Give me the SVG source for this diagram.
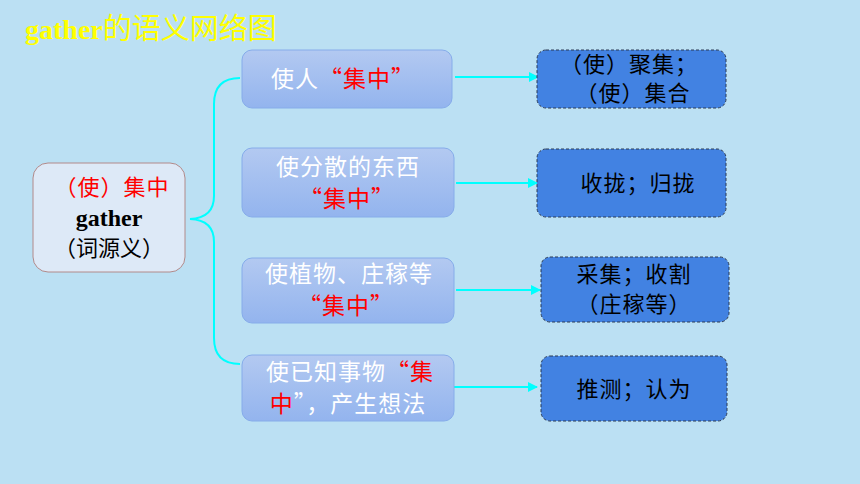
<svg xmlns="http://www.w3.org/2000/svg" width="860" height="484" viewBox="0 0 860 484">
<defs>
<linearGradient id="mid" x1="0" y1="0" x2="0" y2="1">
<stop offset="0" stop-color="#b3c9f1"/>
<stop offset="1" stop-color="#93b4ee"/>
</linearGradient>
<marker id="ah" viewBox="0 0 10 10" refX="9" refY="5" markerWidth="5" markerHeight="5" orient="auto" markerUnits="strokeWidth">
<path d="M0,0 L10,5 L0,10 z" fill="#00ffff"/>
</marker>
<style>
.cjk{font-family:"Noto Sans CJK SC","Noto Sans",sans-serif;}
.mid rect{fill:url(#mid);stroke:#86acea;stroke-width:1;}
.mid text{fill:#ffffff;font-size:23px;text-anchor:middle;letter-spacing:1px;}
.mid .red{fill:#ff0000;}
.right rect{fill:#4282e2;stroke:#2a3a55;stroke-width:1;stroke-dasharray:3 2;}
.right text{fill:#000000;font-size:22px;text-anchor:middle;letter-spacing:1px;}
.conn{stroke:#00ffff;stroke-width:2;fill:none;}
</style>
</defs>
<rect x="0" y="0" width="860" height="484" fill="#bbe0f3"/>
<text x="25" y="39" font-size="28" font-weight="bold" fill="#ffff00" font-family="'Liberation Serif','Noto Sans CJK SC',serif">gather<tspan font-weight="normal" font-size="29" class="cjk">的语义网络图</tspan></text>

<g id="root">
<rect x="33" y="163" width="152" height="109" rx="15" fill="#dde9f7" stroke="#b28a8a" stroke-width="1"/>
<text x="112" y="195" class="cjk" font-size="22" fill="#ff0000" text-anchor="middle" letter-spacing="1">（使）集中</text>
<text x="109" y="226" font-family="'Liberation Serif',serif" font-weight="bold" font-size="24" fill="#000" text-anchor="middle">gather</text>
<text x="109" y="256" class="cjk" font-size="22" fill="#000" text-anchor="middle">（词源义）</text>
</g>

<g id="connectors">
<path class="conn" d="M240,78 Q214,78 214,104 L214,196 Q214,218 190,219 Q214,220 214,242 L214,338 Q214,364 240,364"/>
<line class="conn" x1="455" y1="77" x2="538" y2="77" marker-end="url(#ah)"/>
<line class="conn" x1="456" y1="183" x2="537" y2="183" marker-end="url(#ah)"/>
<line class="conn" x1="456" y1="290" x2="540" y2="290" marker-end="url(#ah)"/>
<line class="conn" x1="454" y1="387" x2="537" y2="387" marker-end="url(#ah)"/>
</g>

<g id="m1" class="mid cjk">
<rect x="242" y="50" width="210" height="58" rx="10"/>
<text x="343" y="87">使人<tspan class="red">“集中”</tspan></text>
</g>
<g id="m2" class="mid cjk">
<rect x="242" y="148" width="212" height="69" rx="10"/>
<text x="348" y="175">使分散的东西</text>
<text x="347" y="207" class="red">“集中”</text>
</g>
<g id="m3" class="mid cjk">
<rect x="242" y="258" width="212" height="65" rx="10"/>
<text x="349" y="282">使植物、庄稼等</text>
<text x="346" y="314" class="red">“集中”</text>
</g>
<g id="m4" class="mid cjk">
<rect x="242" y="355" width="212" height="66" rx="10"/>
<text x="350" y="380">使已知事物<tspan class="red">“集</tspan></text>
<text x="348" y="412"><tspan class="red">中</tspan>”，产生想法</text>
</g>

<g id="r1" class="right cjk">
<rect x="537" y="50" width="189" height="58" rx="9"/>
<text x="629" y="72">（使）聚集；</text>
<text x="633" y="101">（使）集合</text>
</g>
<g id="r2" class="right cjk">
<rect x="537" y="149" width="189" height="68" rx="9"/>
<text x="638" y="191" font-size="24">收拢；归拢</text>
</g>
<g id="r3" class="right cjk">
<rect x="541" y="257" width="188" height="65" rx="9"/>
<text x="634" y="282" font-size="24">采集；收割</text>
<text x="634" y="312">（庄稼等）</text>
</g>
<g id="r4" class="right cjk">
<rect x="541" y="356" width="186" height="65" rx="9"/>
<text x="634" y="397" font-size="24">推测；认为</text>
</g>
</svg>
